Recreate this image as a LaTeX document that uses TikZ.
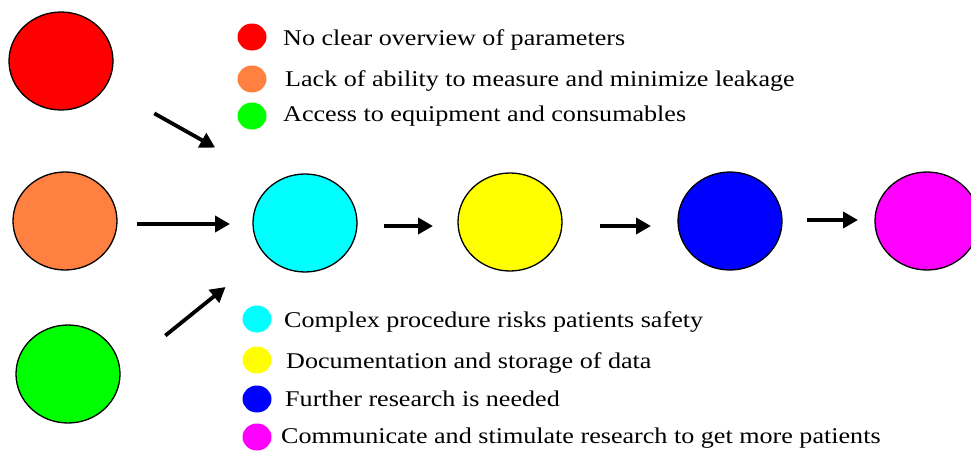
\documentclass[tikz,border=0pt]{standalone}
\usepackage{fontspec}
\setmainfont{Liberation Serif}[FakeStretch=1.16]
\usetikzlibrary{shapes.geometric,arrows.meta}
\definecolor{cred}{HTML}{FF0000}
\definecolor{corange}{HTML}{FF8040}
\definecolor{cgreen}{HTML}{00FF00}
\definecolor{ccyan}{HTML}{00FFFF}
\definecolor{cyellow}{HTML}{FFFF00}
\definecolor{cblue}{HTML}{0000FF}
\definecolor{cmagenta}{HTML}{FF00FF}
\tikzset{
  bigdot/.style={ellipse, draw=black, line width=1.3pt, fill=#1, minimum width=104pt, minimum height=98pt, inner sep=0pt},
  keydot/.style={ellipse, fill=#1, minimum width=29pt, minimum height=27pt, inner sep=0pt},
  keytext/.style={anchor=base west, inner sep=0pt, font=\fontsize{22.5pt}{24pt}\selectfont},
  flow/.style={line width=3.8pt, -{Triangle[length=15pt,width=16pt]}}
}
\begin{document}
\begin{tikzpicture}[x=1pt,y=-1pt]
\useasboundingbox (0,0) rectangle (971,450);
\clip (0,0) rectangle (971,450);
\fill[white] (0,0) rectangle (971,450);
% big circles
\node[bigdot=cred] (red) at (61,61) {};
\node[bigdot=corange] (orange) at (65,221) {};
\node[bigdot=cgreen] (green) at (68,374) {};
\node[bigdot=ccyan] (cyan) at (305,223) {};
\node[bigdot=cyellow] (yellow) at (510,222) {};
\node[bigdot=cblue] (blue) at (730,221) {};
\node[bigdot=cmagenta] (magenta) at (927,221) {};
% arrows
\draw[flow, shorten <=107pt, shorten >=103pt] (red.center) -- ([yshift=25pt]cyan.center);
\draw[flow, shorten <=72pt, shorten >=75pt] ([yshift=-3pt]orange.center) -- ([yshift=-1pt]cyan.center);
\draw[flow, shorten <=125pt, shorten >=102pt] ([yshift=-40pt]green.center) -- (cyan.center);
\draw[flow, shorten <=79pt, shorten >=77pt] ([yshift=-3pt]cyan.center) -- ([yshift=-4pt]yellow.center);
\draw[flow, shorten <=90pt, shorten >=79pt] ([yshift=-4pt]yellow.center) -- ([yshift=-5pt]blue.center);
\draw[flow, shorten <=77pt, shorten >=69pt] ([yshift=1pt]blue.center) -- ([yshift=1pt]magenta.center);
% legend top
\node[keydot=cred] (k1) at (252,37) {};
\node[keydot=corange] (k2) at (252,79) {};
\node[keydot=cgreen] (k3) at (252,116) {};
\node[keytext] (t1) at (283,45) {No clear overview of parameters};
\node[keytext] (t2) at (285,86) {Lack of ability to measure and minimize leakage};
\node[keytext] (t3) at (283,121) {Access to equipment and consumables};
% legend bottom
\node[keydot=ccyan] (k4) at (257,319) {};
\node[keydot=cyellow] (k5) at (257,360) {};
\node[keydot=cblue] (k6) at (257,399) {};
\node[keydot=cmagenta] (k7) at (257,437) {};
\node[keytext] (t4) at (284,327) {Complex procedure risks patients safety};
\node[keytext] (t5) at (286,368) {Documentation and storage of data};
\node[keytext] (t6) at (285,406) {Further research is needed};
\node[keytext] (t7) at (281,443) {Communicate and stimulate research to get more patients};
\end{tikzpicture}
\end{document}
